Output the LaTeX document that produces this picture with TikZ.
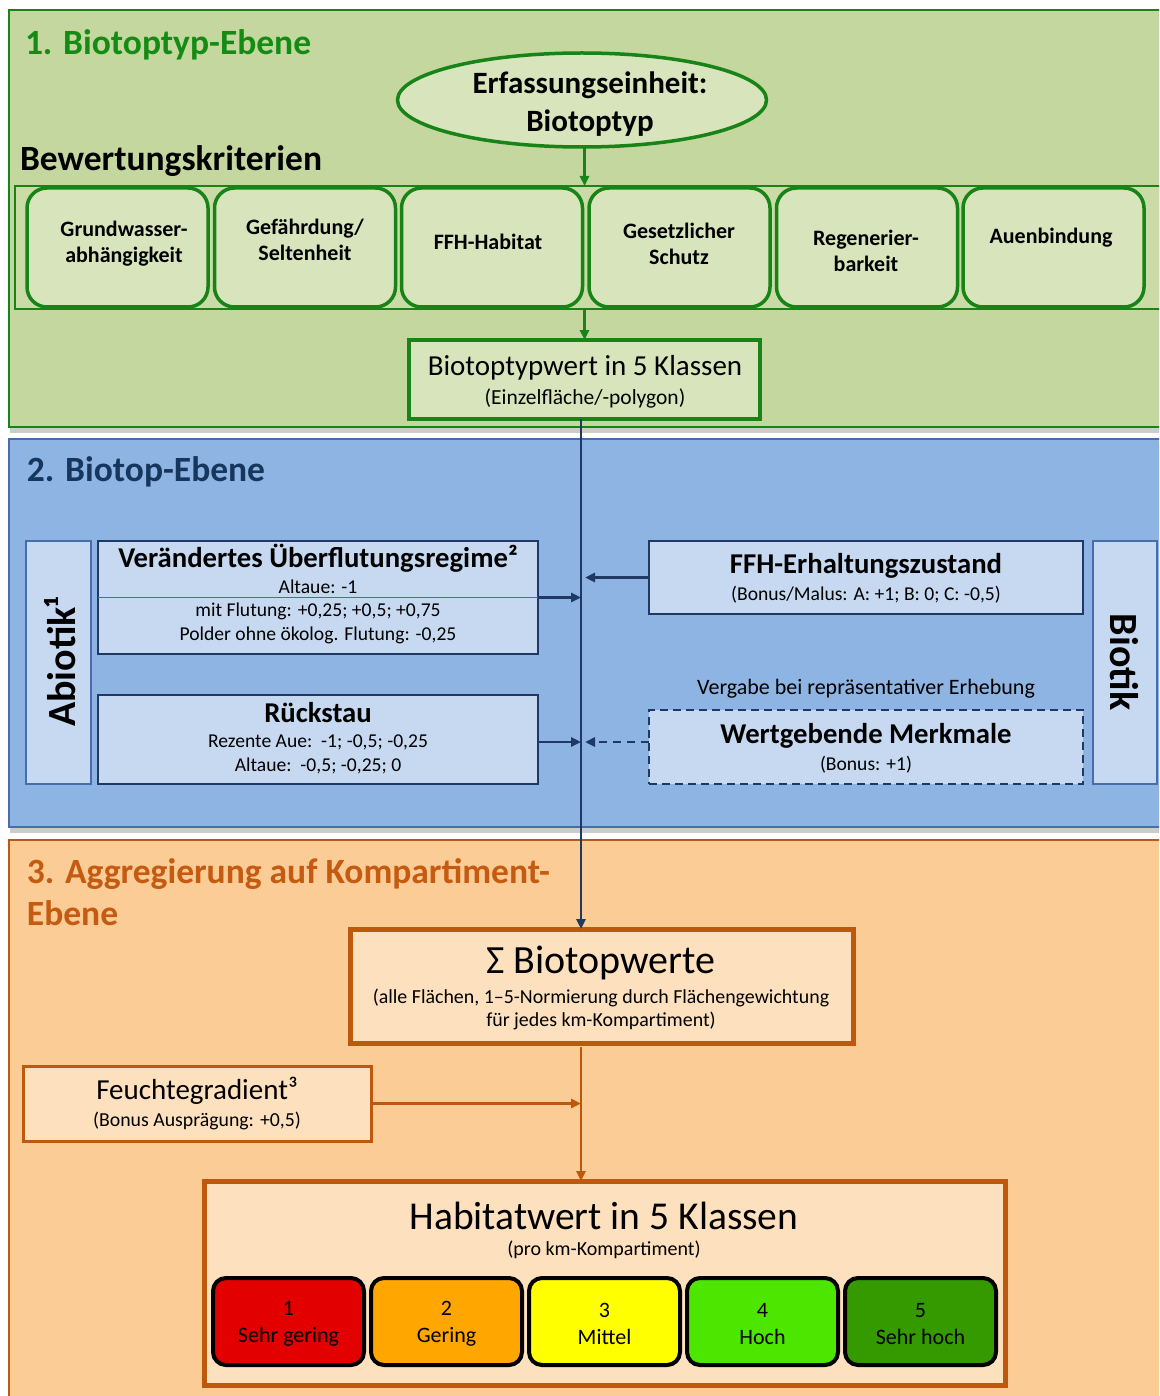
\documentclass[tikz,border=0pt]{standalone}
\usepackage{fontspec}
\setmainfont{Carlito}
\usetikzlibrary{arrows.meta,shapes.geometric,shadows,calc}
\definecolor{greenbg}{RGB}{196,215,158}
\definecolor{greenbox}{RGB}{216,228,188}
\definecolor{gline}{RGB}{24,132,24}
\definecolor{gtitle}{RGB}{20,140,20}
\definecolor{bluebg}{RGB}{141,180,226}
\definecolor{bluebox}{RGB}{198,217,241}
\definecolor{bluedk}{RGB}{31,56,100}
\definecolor{blueln}{RGB}{70,110,170}
\definecolor{bluetitle}{RGB}{23,54,93}
\definecolor{orangebg}{RGB}{252,204,150}
\definecolor{orangebox}{RGB}{253,224,190}
\definecolor{orangedk}{RGB}{190,88,12}
\definecolor{otitle}{RGB}{197,90,17}
\definecolor{k1}{RGB}{226,0,0}
\definecolor{k2}{RGB}{255,166,0}
\definecolor{k3}{RGB}{255,255,0}
\definecolor{k4}{RGB}{76,230,0}
\definecolor{k5}{RGB}{52,154,0}
\newcommand{\fsz}[2]{\fontsize{#1}{#2}\selectfont}
\begin{document}
\begin{tikzpicture}[x=1pt,y=-1pt,
  every node/.style={inner sep=0pt, outer sep=0pt},
  panel/.style={draw, line width=1.5pt, anchor=north west, minimum width=1155},
  lbl/.style={align=center},
  crit/.style={draw=gline, line width=3.5pt, fill=greenbox, rounded corners=20pt, minimum width=181, minimum height=119},
  bbox/.style={draw=bluedk, line width=2.5pt, fill=bluebox},
  obox/.style={draw=orangedk, fill=orangebox},
  klasse/.style={draw=black, line width=4pt, rounded corners=13pt, minimum width=151, minimum height=87},
  garr/.style={draw=gline, line width=2.5pt, -{Triangle[length=10pt,width=9pt]}},
  barr/.style={draw=bluedk, line width=2.8pt, -{Triangle[length=10pt,width=9pt]}},
  oarr/.style={draw=orangedk, line width=2.8pt, -{Triangle[length=10pt,width=9pt]}},
  shad/.style={drop shadow={shadow xshift=1pt, shadow yshift=-6pt, opacity=0.4}}
]
\clip (0,0) rectangle (1159,1396);
\fill[white] (0,0) rectangle (1159,1396);

% ---------- panels ----------
\node[panel, shad, draw=gline, fill=greenbg, minimum height=417] (p1) at (9,10) {};
\node[panel, shad, draw=blueln, fill=bluebg, minimum height=388] (p2) at (9,439) {};
\node[panel, draw=orangedk, fill=orangebg, minimum height=570] (p3) at (9,840) {};

% ---------- level 1 ----------
\node[anchor=west, text=gtitle, font=\bfseries\fsz{35.5}{40}] (t1) at (25,45) {1. Biotoptyp-Ebene};
\node[ellipse, draw=gline, line width=3.5pt, fill=greenbox, minimum width=369, minimum height=94] (erf) at (582,100) {};
\node[lbl, font=\bfseries\fsz{31}{38}] (erft) at (590,104) {Erfassungseinheit:\\Biotoptyp};
\node[anchor=west, font=\bfseries\fsz{35.5}{40}] (bk) at (20,161) {Bewertungskriterien};

\node[draw=gline, line width=1.5pt, fill=greenbg!70!greenbox, anchor=north west, minimum width=1150, minimum height=123] (strip) at (15,186) {};
\node[crit] (c1) at (117.5,247.5) {};
\node[crit] (c2) at (305,247.5) {};
\node[crit] (c3) at (492,247.5) {};
\node[crit] (c4) at (679.5,247.5) {};
\node[crit] (c5) at (867,247.5) {};
\node[crit] (c6) at (1053.5,247.5) {};
\node[lbl, font=\bfseries\fsz{22}{26}] (c1t) at (124,244) {Grundwasser-\\abhängigkeit};
\node[lbl, font=\bfseries\fsz{22}{26}] (c2t) at (305,240) {Gefährdung/\\Seltenheit};
\node[lbl, font=\bfseries\fsz{22}{26}] (c3t) at (488,242) {FFH-Habitat};
\node[lbl, font=\bfseries\fsz{22}{26}] (c4t) at (679,244) {Gesetzlicher\\Schutz};
\node[lbl, font=\bfseries\fsz{22}{26}] (c5t) at (866,251) {Regenerier-\\barkeit};
\node[lbl, font=\bfseries\fsz{22}{26}] (c6t) at (1051,238) {Auenbindung};

\node[draw=gline, line width=4.5pt, fill=greenbox, minimum width=351, minimum height=79] (bw) at (584.5,379.5) {};
\node[lbl, font=\fsz{29}{34}] (bwt) at (585,368) {Biotoptypwert in 5 Klassen};
\node[lbl, font=\fsz{21.5}{25}] (bws) at (585,398) {(Einzelfläche/-polygon)};

\draw[garr] (bw.north |- erf.south) -- (bw.north |- strip.north);
\draw[garr] (bw.north |- strip.south) -- (bw.north);

% ---------- level 2 ----------
\node[anchor=west, text=bluetitle, font=\bfseries\fsz{35.5}{40}] (t2) at (27,472) {2. Biotop-Ebene};

\node[draw=blueln, line width=1.5pt, fill=bluebox, minimum width=65, minimum height=243] (abio) at (58.5,662.5) {};
\node[rotate=90, font=\bfseries\fsz{40}{44}] (abiot) at (60,662) {Abiotik¹};

\node[bbox, minimum width=440, minimum height=113] (ver) at (318,597.5) {};
\draw[blueln, line width=1pt] (ver.west) -- (ver.east);
\node[lbl, font=\bfseries\fsz{28.7}{32}] (vert) at (318,558) {Verändertes Überflutungsregime²};
\node[lbl, font=\fsz{19.6}{24}] (vera) at (318,587) {Altaue: -1};
\node[lbl, font=\fsz{19.6}{24}] (verb) at (318,623) {mit Flutung: +0,25; +0,5; +0,75\\Polder ohne ökolog. Flutung: -0,25};

\node[bbox, minimum width=440, minimum height=89] (rue) at (318,739.5) {};
\node[lbl, font=\bfseries\fsz{28.7}{32}] (ruet) at (318,713) {Rückstau};
\node[lbl, font=\fsz{19.6}{24}] (rueb) at (318,754) {Rezente Aue:\ \ -1; -0,5; -0,25\\Altaue:\ \ -0,5; -0,25; 0};

\node[bbox, minimum width=434, minimum height=73] (ffh) at (866,577.5) {};
\node[lbl, font=\bfseries\fsz{28.7}{32}] (ffht) at (866,566) {FFH-Erhaltungszustand};
\node[lbl, font=\fsz{19.6}{22}] (ffhb) at (866,595) {(Bonus/Malus: A: +1; B: 0; C: -0,5)};

\node[lbl, font=\fsz{22}{24}] (verg) at (866,689) {Vergabe bei repräsentativer Erhebung};
\node[bbox, dash pattern=on 8pt off 5pt, minimum width=434, minimum height=74] (wm) at (866,747) {};
\node[lbl, font=\bfseries\fsz{28.7}{32}] (wmt) at (866,736) {Wertgebende Merkmale};
\node[lbl, font=\fsz{19.6}{22}] (wmb) at (866,765) {(Bonus: +1)};

\node[draw=blueln, line width=1.5pt, fill=bluebox, minimum width=64, minimum height=243] (bio) at (1125,662.5) {};
\node[rotate=-90, font=\bfseries\fsz{40}{44}] (biot) at (1124,662) {Biotik};

\coordinate (vx) at (581,0);
\coordinate (ya) at (0,742);
\draw[barr] (ver.east) -- (ver.east -| vx);
\draw[barr] (rue.east |- ya) -- (vx |- ya);
\draw[barr, shorten >=4pt] (ffh.west) -- (ffh.west -| vx);
\draw[barr, dash pattern=on 8pt off 6pt, shorten >=4pt] (wm.west |- ya) -- (vx |- ya);

% ---------- level 3 ----------
\node[anchor=west, align=left, text=otitle, font=\bfseries\fsz{35.5}{42}] (t3) at (27,892) {3. Aggregierung auf Kompartiment-\\Ebene};

\node[obox, line width=5pt, minimum width=503, minimum height=114] (sig) at (601.5,986) {};
\node[lbl, font=\fsz{40}{46}] (sigt) at (601,963) {Σ Biotopwerte};
\node[lbl, font=\fsz{19.9}{23}] (sigb) at (601,1009.5) {(alle Flächen, 1–5-Normierung durch Flächengewichtung\\für jedes km-Kompartiment)};

\node[obox, line width=3pt, minimum width=348, minimum height=75] (feu) at (197,1103.5) {};
\node[lbl, font=\fsz{29}{32}] (feut) at (197,1091) {Feuchtegradient³};
\node[lbl, font=\fsz{19.8}{22}] (feub) at (197,1121) {(Bonus Ausprägung: +0,5)};

\node[obox, line width=5pt, minimum width=801, minimum height=204] (hab) at (604.5,1283) {};
\node[lbl, font=\fsz{39.5}{44}] (habt) at (604,1216) {Habitatwert in 5 Klassen};
\node[lbl, font=\fsz{20}{22}] (habb) at (604,1250) {(pro km-Kompartiment)};

\node[klasse, fill=k1] (k1) at (288.5,1321.5) {};
\node[klasse, fill=k2] (k2) at (446.5,1321.5) {};
\node[klasse, fill=k3] (k3) at (604.5,1321.5) {};
\node[klasse, fill=k4] (k4) at (762.5,1321.5) {};
\node[klasse, fill=k5] (k5) at (920.5,1321.5) {};
\node[lbl, font=\fsz{22}{27}] (k1t) at (288.5,1324) {1\\Sehr gering};
\node[lbl, font=\fsz{22}{27}] (k2t) at (446.5,1324) {2\\Gering};
\node[lbl, font=\fsz{22}{27}] (k3t) at (604.5,1324) {3\\Mittel};
\node[lbl, font=\fsz{22}{27}] (k4t) at (762.5,1324) {4\\Hoch};
\node[lbl, font=\fsz{22}{27}] (k5t) at (920.5,1324) {5\\Sehr hoch};

\draw[barr] (bw.south -| vx) -- (sig.north -| vx);
\draw[oarr, shorten <=4pt] (sig.south -| vx) -- (hab.north -| vx);
\draw[oarr] (feu.east) -- (feu.east -| vx);
\end{tikzpicture}
\end{document}
